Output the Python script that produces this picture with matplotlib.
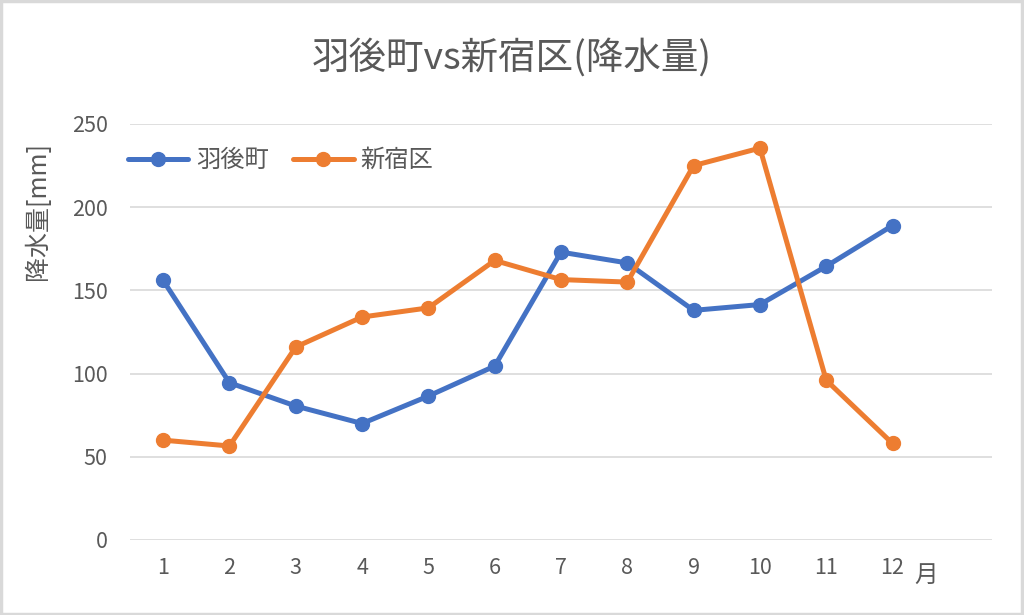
import matplotlib.pyplot as plt
from matplotlib.patches import Rectangle

plt.rcParams["font.family"] = ["Noto Sans CJK JP", "DejaVu Sans"]

months = ["1", "2", "3", "4", "5", "6", "7", "8", "9", "10", "11", "12"]
ugo = [156, 94.5, 80.5, 70, 86.5, 104.5, 173, 166.5, 138, 141.5, 164.5, 189]
shinjuku = [60, 56.5, 116, 134, 139.5, 168, 156.5, 155, 225, 235.5, 96, 58]

TEXT = "#595959"
BLUE = "#4472C4"
ORANGE = "#ED7D31"

fig = plt.figure(figsize=(10.24, 6.15), dpi=100)
ax = fig.add_axes([130 / 1024, (615 - 540) / 615, 862 / 1024, 416 / 615])

x = list(range(len(months)))
ax.plot(x, ugo, color=BLUE, lw=3.6, marker="o", ms=10, label="羽後町",
        solid_capstyle="round")
ax.plot(x, shinjuku, color=ORANGE, lw=3.6, marker="o", ms=10, label="新宿区",
        solid_capstyle="round")

ax.set_xlim(-0.5, 12.5)
ax.set_ylim(0, 250)
ax.set_yticks(range(0, 251, 50))
ax.set_xticks(x)
ax.set_xticklabels(months)
ax.grid(axis="y", color="#d9d9d9", lw=1.2)
ax.set_axisbelow(True)
for s in ax.spines.values():
    s.set_visible(False)
ax.tick_params(length=0, labelsize=15.5, colors=TEXT, pad=12)
ax.tick_params(axis="y", pad=16)

ax.text(11.5, -21, "月", ha="center", va="center", fontsize=17, color=TEXT)
ax.set_ylabel("降水量[mm]", fontsize=18, color=TEXT)
ax.yaxis.set_label_coords(-0.092, 0.79)

fig.text(0.5, 0.906, "羽後町vs新宿区(降水量)", ha="center", va="center",
         fontsize=27, color=TEXT)

ax.legend(loc="center left", bbox_to_anchor=(-0.014, 0.913), ncol=2, frameon=False,
          fontsize=17.5, labelcolor=TEXT, handlelength=2.5, columnspacing=1.0,
          handletextpad=0.3, borderaxespad=0)

fig.patches.append(Rectangle((0.001, 0.002), 0.997, 0.996, transform=fig.transFigure,
                             fill=False, edgecolor="#d9d9d9", lw=2.5))

fig.savefig("out.png", dpi=100)
